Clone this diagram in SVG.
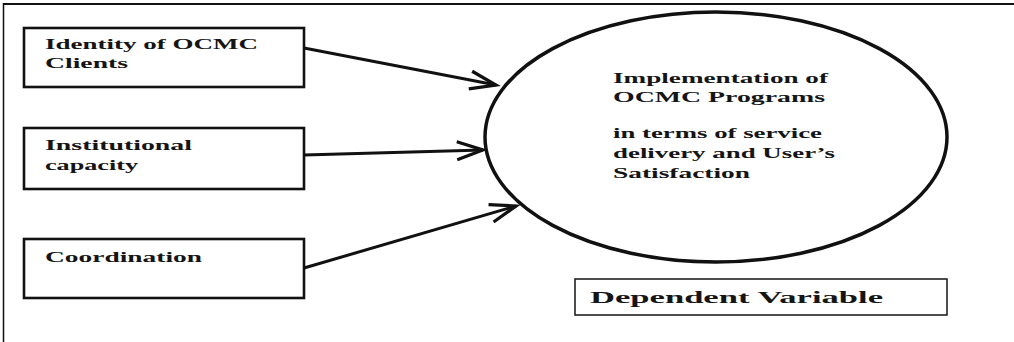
<svg xmlns="http://www.w3.org/2000/svg" width="1014" height="342" viewBox="0 0 1014 342">
<style>
.t{font-family:"Liberation Serif","Times New Roman",serif;font-weight:bold;fill:#151515;}
.s15{font-size:15px;}
.box{fill:#fff;stroke:#111;stroke-width:2.6;}
.conn{stroke:#111;stroke-width:3;fill:none;}
</style>
<defs>
<marker id="ah" markerUnits="userSpaceOnUse" markerWidth="40" markerHeight="30" viewBox="-30 -15 34 30" refX="0" refY="0" orient="auto">
<path d="M-26,-9 L0,0 L-26,9" fill="none" stroke="#111" stroke-width="3.2" stroke-linejoin="miter"/>
</marker>
</defs>
<rect x="0" y="0" width="1014" height="342" fill="#fff"/>
<g id="frame">
<line x1="3" y1="4" x2="1014" y2="4" stroke="#111" stroke-width="2"/>
<line x1="3.5" y1="3" x2="3.5" y2="342" stroke="#111" stroke-width="1.5"/>
</g>
<g id="connectors">
<line class="conn" x1="304" y1="48" x2="496" y2="85" marker-end="url(#ah)"/>
<line class="conn" x1="304" y1="155" x2="483" y2="150" marker-end="url(#ah)"/>
<line class="conn" x1="304" y1="268" x2="516" y2="206" marker-end="url(#ah)"/>
</g>
<g id="node-identity">
<rect class="box" x="24" y="28" width="280" height="59"/>
<text class="t s15" x="45" y="49" textLength="213" lengthAdjust="spacingAndGlyphs">Identity of OCMC</text>
<text class="t s15" x="45" y="68" textLength="83" lengthAdjust="spacingAndGlyphs">Clients</text>
</g>
<g id="node-capacity">
<rect class="box" x="24" y="128" width="280" height="61"/>
<text class="t s15" x="45" y="150" textLength="147" lengthAdjust="spacingAndGlyphs">Institutional</text>
<text class="t s15" x="45" y="170" textLength="93" lengthAdjust="spacingAndGlyphs">capacity</text>
</g>
<g id="node-coordination">
<rect class="box" x="24" y="239" width="280" height="59"/>
<text class="t s15" x="45" y="262" textLength="157" lengthAdjust="spacingAndGlyphs">Coordination</text>
</g>
<g id="node-implementation">
<ellipse cx="716" cy="137" rx="231" ry="125" fill="none" stroke="#111" stroke-width="3.5"/>
<text class="t s15" x="613" y="83" textLength="215" lengthAdjust="spacingAndGlyphs">Implementation of</text>
<text class="t s15" x="613" y="102" textLength="212" lengthAdjust="spacingAndGlyphs">OCMC Programs</text>
<text class="t s15" x="613" y="138" textLength="209" lengthAdjust="spacingAndGlyphs">in terms of service</text>
<text class="t s15" x="613" y="158" textLength="222" lengthAdjust="spacingAndGlyphs">delivery and User’s</text>
<text class="t s15" x="613" y="178" textLength="137" lengthAdjust="spacingAndGlyphs">Satisfaction</text>
</g>
<g id="node-dependent">
<rect x="575" y="279" width="372" height="36" fill="#fff" stroke="#222" stroke-width="1.6"/>
<text class="t" font-size="17" x="590" y="303" textLength="293" lengthAdjust="spacingAndGlyphs">Dependent Variable</text>
</g>
</svg>
